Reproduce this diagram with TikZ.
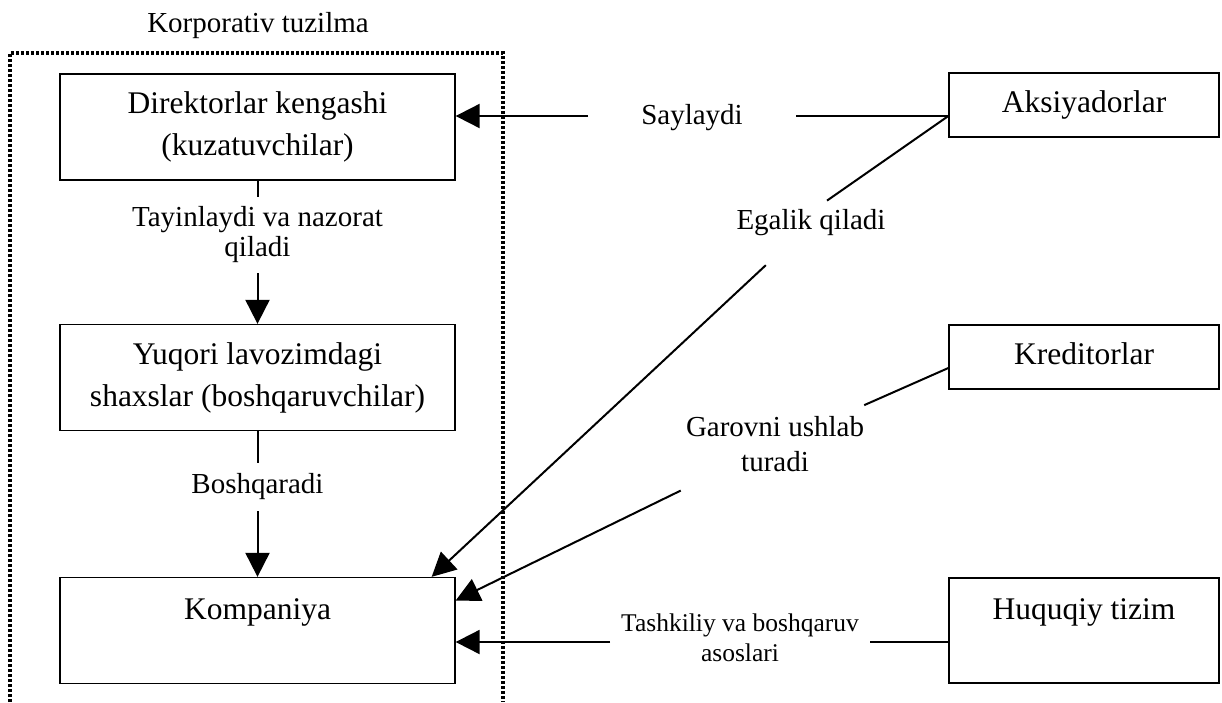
\documentclass[tikz,border=0pt]{standalone}
\usepackage{fontspec}
\setmainfont{Liberation Serif}
\usetikzlibrary{arrows.meta}
\newcommand{\boxfont}{\fontsize{31.5pt}{42pt}\selectfont}
\newcommand{\lblfont}{\fontsize{29pt}{30pt}\selectfont}
\newcommand{\smallfont}{\fontsize{25.5pt}{30pt}\selectfont}
\tikzset{
  box/.style={draw, line width=1.3pt, minimum width=395pt, minimum height=106pt,
    align=center, font=\boxfont, inner sep=0pt},
  sidebox/.style={box, minimum width=270pt, minimum height=64pt},
  lbl/.style={font=\lblfont, align=center, inner xsep=0pt, inner ysep=#1},
  lbl/.default=8pt,
  link/.style={line width=2pt},
  arr/.style={link, -{Triangle[length=24pt,width=24pt]}},
  frame line/.style={line width=3.6pt, dash pattern=on 3pt off 2pt}
}
\begin{document}
\begin{tikzpicture}[x=1pt,y=-1pt]
\useasboundingbox (0,0) rectangle (1222,702);
\node[lbl] (title) at (258,26) {Korporativ tuzilma};
\draw[frame line] (10,702) -- (10,53) -- (503,53) -- (503,702);
% left column
\node[box] (dir) at (257.5,127) {Direktorlar kengashi\\(kuzatuvchilar)};
\node[box] (yuq) at (257.5,377.5) {Yuqori lavozimdagi\\shaxslar (boshqaruvchilar)};
\node[box] (komp) at (257.5,630.5) {Kompaniya\\\mbox{}};
% right column
\node[sidebox] (aks) at (1084,105) {Aksiyadorlar};
\node[sidebox] (kred) at (1084,357) {Kreditorlar\vphantom{y}};
\node[sidebox, minimum height=105pt] (huq) at (1084,630.5) {Huquqiy tizim\\\mbox{}};
\coordinate (aksp) at ([yshift=-11pt]aks.west);
\coordinate (kredp) at ([yshift=-11pt]kred.west);
\coordinate (huqp) at ([yshift=-11.5pt]huq.west);
% labels
\node[lbl=10pt] (tay) at (257.5,235) {Tayinlaydi va nazorat\\qiladi};
\node[lbl=11pt] (bosh) at (257.5,487) {Boshqaradi};
\node[lbl, inner xsep=53pt] (say) at (692,118) {Saylaydi};
\node[lbl=9pt] (egal) at (811,223) {Egalik qiladi};
\node[lbl=12pt, font=\fontsize{29pt}{35pt}\selectfont] (garov) at (775,444.5) {Garovni ushlab\\turadi};
\node[lbl, font=\smallfont, inner xsep=11pt] (tashk) at (740,638) {Tashkiliy va boshqaruv\\asoslari};
% connectors
\draw[link] (dir) -- (tay);
\draw[arr] (tay) -- (yuq);
\draw[link] (yuq) -- (bosh);
\draw[arr] (bosh) -- (komp);
\draw[link] (aksp) -- (say.east |- aksp);
\draw[arr] (say.west |- aksp) -- (dir.east |- aksp);
\draw[link] (aksp) -- ([xshift=16pt]egal.north);
\draw[arr, shorten <=29pt] (egal) -- ([xshift=-24pt]komp.north east);
\draw[link] (kredp) -- (garov);
\draw[arr, shorten <=14pt] (garov) -- ([yshift=30pt]komp.east);
\draw[link] (huqp) -- (tashk.east |- huqp);
\draw[arr] (tashk.west |- huqp) -- (komp.east |- huqp);
\end{tikzpicture}
\end{document}
